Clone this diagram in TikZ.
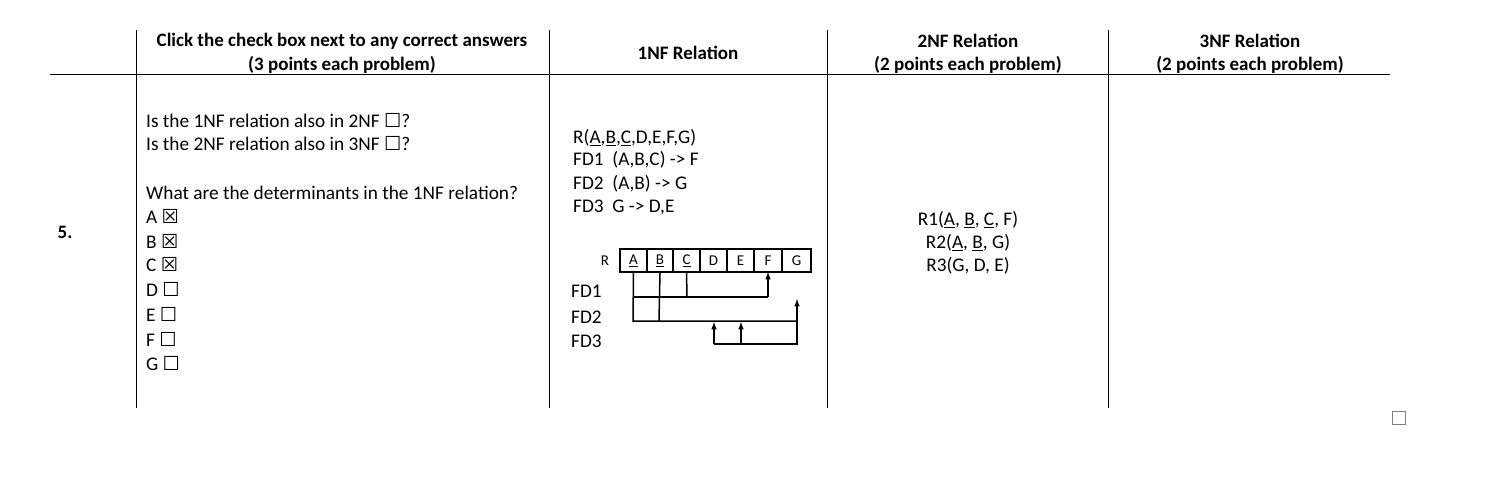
\documentclass[tikz,border=0pt]{standalone}
\usepackage{fontspec}
\setmainfont{Carlito}
\newfontfamily\symf{DejaVu Sans}
\newcommand{\ub}{{\symf\symbol{"2610}}}
\newcommand{\xb}{{\symf\symbol{"2612}}}
\begin{document}
\begin{tikzpicture}[x=1pt,y=-1pt,
  t/.style={font=\fontsize{19.3}{22}\selectfont,inner sep=0pt,anchor=west},
  h/.style={font=\fontsize{19}{22}\selectfont\bfseries,inner sep=0pt},
  c/.style={font=\fontsize{15}{17}\selectfont,inner sep=0pt},
  ln/.style={line width=1pt},
  dl/.style={line width=1.5pt},
  ar/.style={line width=1.5pt,-latex}]
\useasboundingbox (0,0) rectangle (1486,483);
\draw[ln] (50,74) -- (1390,74);
\foreach \x in {136,549,827,1108} \draw[ln] (\x,30) -- (\x,408);
\node[h] (h1a) at (342,41) {Click the check box next to any correct answers};
\node[h] (h1b) at (342,65) {(3 points each problem)};
\node[h] (h2) at (688,53) {1NF Relation};
\node[h] (h3a) at (968,41) {2NF Relation};
\node[h] (h3b) at (968,65) {(2 points each problem)};
\node[h] (h4a) at (1250,41) {3NF Relation};
\node[h] (h4b) at (1250,65) {(2 points each problem)};
\node[h] (n5) at (65,232) {5.};
\node[t] (q1) at (146,121) {Is the 1NF relation also in 2NF \ub?};
\node[t] (q2) at (146,144) {Is the 2NF relation also in 3NF \ub?};
\node[t] (q3) at (146,193) {What are the determinants in the 1NF relation?};
\foreach \l/\b/\y in {A/\xb/216,B/\xb/241,C/\xb/265,D/\ub/289,E/\ub/314,F/\ub/339,G/\ub/364}
  \node[t] (o\l) at (146,\y) {\l\ \b};
\node[t] (r0) at (573,138) {R(\underline{A},\underline{B},\underline{C},D,E,F,G)};
\node[t] (r1) at (573,160) {FD1\ \ (A,B,C) -> F};
\node[t] (r2) at (573,184) {FD2\ \ (A,B) -> G};
\node[t] (r3) at (573,207) {FD3\ \ G -> D,E};
\node[c] (R) at (605,261) {R};
\foreach \l/\a/\b/\u in {A/620/647/1,B/647/673/1,C/673/700/1,D/700/727/0,E/727/754/0,F/754/782/0,G/782/811/0}{
  \draw[dl] (\a,249) rectangle (\b,272);
  \coordinate (c\l) at ({(\a+\b)/2},272);
  \ifnum\u=1 \node[c] at ({(\a+\b)/2},261) {\underline{\l}};\else\node[c] at ({(\a+\b)/2},261) {\l};\fi
}
\draw[dl] (cA) -- (633,321) -- (797,321);
\draw[dl] (cB) -- (659,321);
\draw[dl] (cC) -- (687,297);
\draw[dl] (633,297) -- (768,297);
\draw[ar] (768,297) -- (cF);
\draw[dl] (714,344) -- (797,344) -- (797,321);
\draw[ar] (797,321) -- (797,299);
\draw[ar] (714,344) -- (714,322);
\draw[ar] (741,344) -- (741,322);
\node[t] (f1) at (571,291) {FD1};
\node[t] (f2) at (571,317) {FD2};
\node[t] (f3) at (571,341) {FD3};
\node[t,anchor=center] (s1) at (968,220) {R1(\underline{A}, \underline{B}, \underline{C}, F)};
\node[t,anchor=center] (s2) at (968,243) {R2(\underline{A}, \underline{B}, G)};
\node[t,anchor=center] (s3) at (968,266) {R3(G, D, E)};
\draw[line width=0.8pt,gray] (1392,411) rectangle (1405,424);
\end{tikzpicture}
\end{document}
